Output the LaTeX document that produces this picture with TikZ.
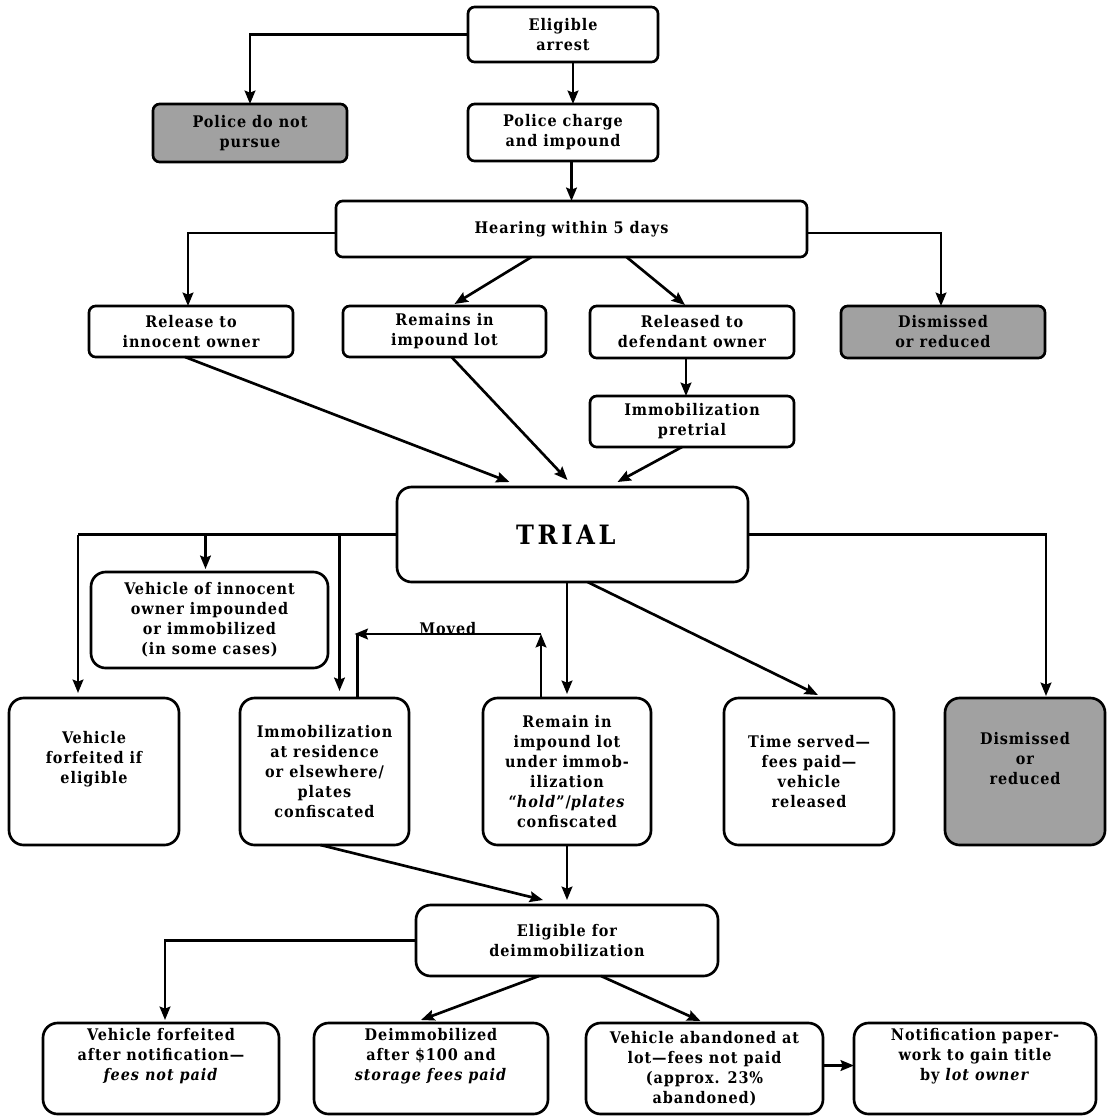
\documentclass[tikz,border=0pt]{standalone}
\usepackage{fontspec}
\setmainfont{DejaVu Serif Condensed}[LetterSpace=6]
\usetikzlibrary{calc,arrows.meta}
\tikzset{
 box/.style={draw, line width=2pt, rounded corners=5pt, align=center, inner sep=0pt, outer sep=0pt, font=\fontsize{12}{15}\selectfont\bfseries},
 tall/.style={box, rounded corners=11pt},
 grey/.style={fill=black!37},
 arr/.style={line width=2pt, -{Stealth[length=10pt,width=8pt,inset=1.5pt]}},
 con/.style={line width=2pt},
 lbl/.style={font=\fontsize{12}{15}\selectfont\bfseries, inner sep=1pt},
}
\newcommand\bx[7]{\node[#6, minimum width={(#4-#2)*0.75pt}, minimum height={(#5-#3)*0.75pt}] (#1) at ({(#2+#4)/2},{(#3+#5)/2}) {#7};}
\begin{document}
\begin{tikzpicture}[x=0.75pt,y=-0.75pt]
\useasboundingbox (0,0) rectangle (1108,1118);
% top
\bx{arrest}{468}{7}{658}{62}{box}{Eligible\\arrest}
\bx{charge}{468}{104}{658}{161}{box}{Police charge\\and impound}
\bx{nopursue}{153}{104}{347}{162}{box,grey}{Police do not\\pursue}
\bx{hearing}{336}{201}{807}{257}{box}{Hearing within 5 days}
\bx{release}{89}{306}{293}{357}{box}{Release to\\innocent owner}
\bx{remains}{343}{306}{546}{357}{box}{Remains in\\impound lot}
\bx{released}{590}{306}{794}{358}{box}{Released to\\defendant owner}
\bx{dism1}{841}{306}{1045}{358}{box,grey}{Dismissed\\or reduced}
\bx{pretrial}{590}{396}{794}{447}{box}{Immobilization\\pretrial}
\bx{trial}{397}{487}{748}{582}{tall,font=\fontsize{20}{24}\selectfont\bfseries\addfontfeatures{LetterSpace=14}}{TRIAL\hspace*{10pt}}
\bx{innocent}{91}{572}{328}{668}{tall}{Vehicle of innocent\\owner impounded\\or immobilized\\(in some cases)}
\bx{forf}{9}{698}{179}{845}{tall}{Vehicle\\forfeited if\\eligible\\[6pt]}
\bx{immob}{240}{698}{409}{845}{tall}{Immobilization\\at residence\\or elsewhere/\\plates\\confiscated}
\bx{remain}{483}{698}{651}{845}{tall}{Remain in\\impound lot\\under immob-\\ilization\\``\textit{hold}''/\textit{plates}\\confiscated}
\bx{time}{724}{698}{894}{845}{tall}{Time served---\\fees paid---\\vehicle\\released}
\bx{dism2}{945}{698}{1105}{845}{tall,grey}{Dismissed\\or\\reduced\\[4pt]}
\bx{deimm}{416}{905}{718}{976}{tall}{Eligible for\\deimmobilization}
\bx{forf2}{43}{1023}{279}{1114}{tall}{Vehicle forfeited\\after notification---\\\textit{fees not paid}\\[6pt]}
\bx{deimm2}{314}{1023}{548}{1114}{tall}{Deimmobilized\\after \$100 and\\\textit{storage fees paid}\\[6pt]}
\bx{aband}{586}{1023}{823}{1114}{tall}{Vehicle abandoned at\\lot---fees not paid\\(approx. 23\%\\abandoned)}
\bx{notif}{854}{1023}{1096}{1114}{tall}{Notification paper-\\work to gain title\\by \textit{lot owner}\\[6pt]}
% top connectors
\draw[arr] (arrest.west) -| (nopursue.north);
\draw[arr] ($(arrest.south)+(10,0)$) -- ($(charge.north)+(10,0)$);
\draw[arr] (charge.south -| hearing.north) -- (hearing.north);
\draw[arr] ($(hearing.west)+(0,4)$) -| ($(release.north)+(-3,0)$);
\draw[arr] ($(hearing.east)+(0,4)$) -| ($(dism1.north)+(-2,0)$);
\draw[arr] ($(hearing.south)+(-40,0)$) -- ($(remains.north)+(10,-2)$);
\draw[arr] ($(hearing.south)+(55,0)$) -- ($(released.north)+(-7,-1)$);
\draw[arr] ($(released.south)+(-6,0)$) -- ($(pretrial.north)+(-6,0)$);
% into trial
\draw[arr] ($(release.south)+(-6,0)$) -- ($(trial.north)+(-63,-5)$);
\draw[arr] ($(remains.south)+(7,0)$) -- ($(trial.north)+(-5,-7)$);
\draw[arr] ($(pretrial.south)+(-10,0)$) -- ($(trial.north)+(45,-5)$);
% out of trial
\coordinate (fa) at ($(forf.north)+(-16,-5)$);
\coordinate (ia) at ($(innocent.north)+(-4,-3)$);
\coordinate (ma) at ($(immob.north)+(15,-7)$);
\draw[con] (trial.west) -- (trial.west -| fa);
\draw[arr] (trial.west -| fa) -- (fa);
\draw[arr] (trial.west -| ia) -- (ia);
\draw[arr] (trial.west -| ma) -- (ma);
% moved loop
\coordinate (m1) at ($(remain.north)+(-26,-64)$);
\coordinate (m2) at ($(immob.north)+(30,-64)$);
\draw[arr] ($(remain.north)+(-26,0)$) -- (m1);
\draw[arr] (m1) -- (m2);
\draw[con] ($(m2)+(3,0)$) -- ($(immob.north)+(33,0)$);
\node[lbl, above=-2pt] (moved) at ($(m1)!0.5!(m2)$) {Moved};
\draw[arr] (trial.south -| remain.north) -- ($(remain.north)+(0,-4)$);
\draw[arr] ($(trial.south)+(15,0)$) -- ($(time.north)+(9,-3)$);
\coordinate (da) at ($(dism2.north)+(21,-2)$);
\draw[arr] (trial.east) -| (da);
% to deimmobilization
\draw[arr] ($(immob.south)+(-4,0)$) -- ($(deimm.north)+(-24,-5)$);
\draw[arr] (remain.south) -- ($(deimm.north)+(0,-5)$);
\draw[arr] (deimm.west) -| ($(forf2.north)+(4,-3)$);
\draw[arr] ($(deimm.south)+(-28,0)$) -- ($(deimm2.north)+(-10,-3)$);
\draw[arr] ($(deimm.south)+(34,0)$) -- ($(aband.north)+(-4,-2)$);
\draw[arr] ($(aband.east)+(0,-3)$) -- ($(notif.west)+(0,-3)$);
\end{tikzpicture}
\end{document}
